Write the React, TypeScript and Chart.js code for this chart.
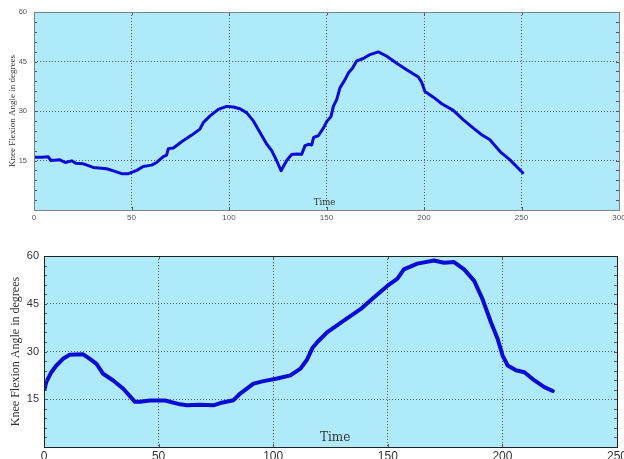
import React, { useEffect, useRef } from 'react';
import { Chart, registerables } from 'chart.js';

Chart.register(...registerables);

// ---- Data: upper trial ----
const timesTop = [0.5, 4, 7.3, 8.7, 13.3, 16, 19.3, 21.3, 25.3, 30.4, 37.3, 41.5, 45, 48.4, 52.7, 56, 60.3, 62.9, 66.3, 68, 68.9, 71.5, 75.7, 80.9, 85.1, 86.8, 90.3, 94.5, 98.8, 102.2, 105.6, 109, 112.5, 115.9, 119.3, 121.9, 124.4, 126.7, 127.6, 129.6, 132.1, 134.7, 137.3, 139, 140.7, 142.4, 143.4, 145.8, 148.4, 150.1, 152.3, 153.5, 155.2, 156.9, 159.5, 161.2, 163.4, 165.5, 168.9, 172.3, 176.6, 180.9, 186, 191.1, 197.1, 198.8, 200.5, 204.8, 209.1, 215, 220.2, 225.3, 229.6, 233.8, 239, 244.1, 250.6];
const anglesTop = [16.0, 16.0, 16.1, 15.0, 15.2, 14.4, 14.9, 14.2, 14.0, 12.9, 12.5, 11.7, 11.0, 11.0, 12.0, 13.2, 13.6, 14.4, 16.2, 16.6, 18.6, 18.8, 20.7, 22.7, 24.5, 26.5, 28.5, 30.5, 31.4, 31.2, 30.7, 29.5, 27.0, 23.5, 20.0, 18.0, 15.0, 11.9, 12.9, 15.0, 16.8, 17.0, 16.9, 19.5, 19.9, 19.7, 22.0, 22.5, 24.8, 26.8, 28.3, 31.4, 33.4, 37.0, 39.5, 41.5, 43.0, 45.2, 45.9, 47.1, 47.9, 46.6, 44.5, 42.5, 40.3, 38.7, 35.9, 34.2, 32.2, 30.2, 27.3, 24.8, 22.8, 21.3, 17.7, 15.2, 11.3];

// ---- Data: lower trial ----
const timesBottom = [0.3, 1, 3.2, 5.4, 8.3, 11.2, 17.1, 20, 22.9, 25.8, 30.2, 34.6, 39.7, 41.9, 46.2, 52.8, 59.4, 62.3, 68.1, 73.9, 76.9, 82.7, 85.6, 91.4, 95.8, 101.7, 107.5, 111.9, 114.8, 117.2, 119.2, 123.5, 130.8, 138.1, 143.9, 149.8, 154.2, 157, 162.9, 170.2, 174.5, 178.9, 183.3, 187.7, 191.3, 195, 197.9, 200.1, 202.3, 205.9, 209.6, 214, 218.3, 222];
const anglesBottom = [18.3, 20.4, 23.5, 25.6, 27.7, 29.0, 29.1, 27.7, 26.1, 23.0, 20.9, 18.3, 14.2, 14.2, 14.6, 14.6, 13.4, 13.1, 13.3, 13.1, 13.8, 14.7, 16.8, 19.9, 20.7, 21.5, 22.5, 24.6, 27.5, 31.2, 32.9, 36.0, 39.7, 43.3, 47.0, 50.6, 52.9, 55.8, 57.6, 58.6, 57.9, 58.1, 55.8, 52.2, 46.5, 39.2, 34.0, 28.7, 25.6, 24.1, 23.5, 20.9, 18.8, 17.6];

// ---- Axis settings ----
const yTitle = 'Knee Flexion Angle in degrees';
const xLabel = 'Time';
const yMin = 0, yMax = 60, yStep = 15, yMinorStep = 3;
const xMaxTop = 300, xMaxBottom = 250, xStep = 50;

const plotDecor = {
  id: 'plotDecor',
  beforeDraw(chart: any, _args: any, opts: any) {
    const { ctx, chartArea: a } = chart;
    ctx.save();
    ctx.fillStyle = opts.bg;
    ctx.fillRect(a.left, a.top, a.right - a.left, a.bottom - a.top);
    ctx.restore();
  },
  afterDraw(chart: any, _args: any, opts: any) {
    const { ctx, chartArea: a, scales } = chart;
    const x = scales.x, y = scales.y;
    ctx.save();
    ctx.strokeStyle = opts.tickColor;
    ctx.lineWidth = 1;
    ctx.beginPath();
    for (let v = yMin; v <= yMax; v += yMinorStep) {
      const py = Math.round(y.getPixelForValue(v)) + 0.5;
      ctx.moveTo(a.left, py); ctx.lineTo(a.left + opts.tickLen, py);
      ctx.moveTo(a.right, py); ctx.lineTo(a.right - opts.tickLen, py);
    }
    for (let v = x.min; v <= x.max; v += xStep) {
      const px = Math.round(x.getPixelForValue(v)) + 0.5;
      ctx.moveTo(px, a.top); ctx.lineTo(px, a.top + opts.tickLen);
      ctx.moveTo(px, a.bottom); ctx.lineTo(px, a.bottom - opts.tickLen);
    }
    ctx.stroke();
    ctx.strokeStyle = opts.boxColor;
    ctx.lineWidth = opts.boxWidth;
    ctx.strokeRect(Math.round(a.left) + 0.5, Math.round(a.top) + 0.5, Math.round(a.right - a.left), Math.round(a.bottom - a.top));
    ctx.font = opts.labelFont;
    ctx.fillStyle = opts.labelColor;
    ctx.textAlign = 'center';
    ctx.textBaseline = 'middle';
    ctx.fillText(xLabel, x.getPixelForValue(opts.labelX), y.getPixelForValue(opts.labelY));
    ctx.restore();
  },
};

type Cfg = {
  times: number[]; angles: number[]; xMax: number; width: number; height: number;
  padTop: number; padRight: number; yWidth: number; xHeight: number;
  tickFontX: number; tickFontY: number; tickColor: string; yPad: number; xPad: number;
  titleSize: number; titlePad: number; lineWidth: number; boxColor: string;
  labelFont: string; labelX: number; labelY: number;
};

function KneeChart(p: Cfg) {
  const ref = useRef<HTMLCanvasElement>(null);
  useEffect(() => {
    const data = p.times.map((t, i) => ({ x: t, y: p.angles[i] }));
    const chart = new Chart(ref.current!, {
      type: 'line',
      data: {
        datasets: [{
          data,
          borderColor: '#0b0bd4',
          borderWidth: p.lineWidth,
          pointRadius: 0,
          tension: 0,
          borderJoinStyle: 'round',
          borderCapStyle: 'round',
        }],
      },
      options: {
        responsive: false,
        animation: false,
        layout: { padding: { top: p.padTop, right: p.padRight, left: 0, bottom: 0 } },
        plugins: {
          legend: { display: false },
          tooltip: { enabled: false },
          plotDecor: {
            bg: '#aeeaf9', tickColor: '#555', tickLen: 3, boxColor: p.boxColor, boxWidth: 1,
            labelFont: p.labelFont, labelColor: '#333', labelX: p.labelX, labelY: p.labelY,
          },
        } as any,
        scales: {
          x: {
            type: 'linear', min: 0, max: p.xMax,
            afterFit: (s: any) => { s.height = p.xHeight; s.paddingLeft = 0; s.paddingRight = 0; },
            ticks: { stepSize: xStep, padding: p.xPad, maxRotation: 0, autoSkip: false, color: p.tickColor,
              font: { family: '"Liberation Sans", Arial, sans-serif', size: p.tickFontX } },
            grid: { drawTicks: false, color: '#5a5a5a', lineWidth: 1 },
            border: { display: false, dash: [1, 2] },
          },
          y: {
            type: 'linear', min: yMin, max: yMax,
            afterFit: (s: any) => { s.width = p.yWidth; },
            ticks: { stepSize: yStep, padding: p.yPad, color: p.tickColor,
              callback: (v: any) => (v === 0 ? '' : String(v)),
              font: { family: '"Liberation Sans", Arial, sans-serif', size: p.tickFontY } },
            grid: { drawTicks: false, color: '#5a5a5a', lineWidth: 1 },
            border: { display: false, dash: [1, 2] },
            title: { display: true, text: yTitle, color: '#333', padding: { top: p.titlePad, bottom: 0 },
              font: { family: '"Liberation Serif", "Times New Roman", serif', size: p.titleSize } },
          },
        },
      },
      plugins: [plotDecor],
    });
    return () => chart.destroy();
  }, []);
  return <canvas ref={ref} width={p.width} height={p.height} style={{ display: 'block' }} />;
}

export default function App() {
  return (
    <div style={{ position: 'absolute', left: 0, top: 0, width: 624, height: 459, background: '#fff', overflow: 'hidden' }}>
      <div style={{ position: 'absolute', left: 0, top: 0 }}>
        <KneeChart times={timesTop} angles={anglesTop} xMax={xMaxTop} width={624} height={230}
          padTop={12} padRight={5} yWidth={34} xHeight={20}
          tickFontX={8} tickFontY={7.5} tickColor="#555" yPad={7} xPad={3}
          titleSize={9} titlePad={7} lineWidth={3} boxColor="#808080"
          labelFont='8.5px "DejaVu Serif", serif' labelX={149} labelY={2.1} />
      </div>
      <div style={{ position: 'absolute', left: 0, top: 230 }}>
        <KneeChart times={timesBottom} angles={anglesBottom} xMax={xMaxBottom} width={624} height={229}
          padTop={26} padRight={7} yWidth={44} xHeight={12}
          tickFontX={12} tickFontY={11} tickColor="#333" yPad={5} xPad={2}
          titleSize={12} titlePad={9} lineWidth={4} boxColor="#222"
          labelFont='12px "DejaVu Serif", serif' labelX={127} labelY={2.8} />
      </div>
    </div>
  );
}
